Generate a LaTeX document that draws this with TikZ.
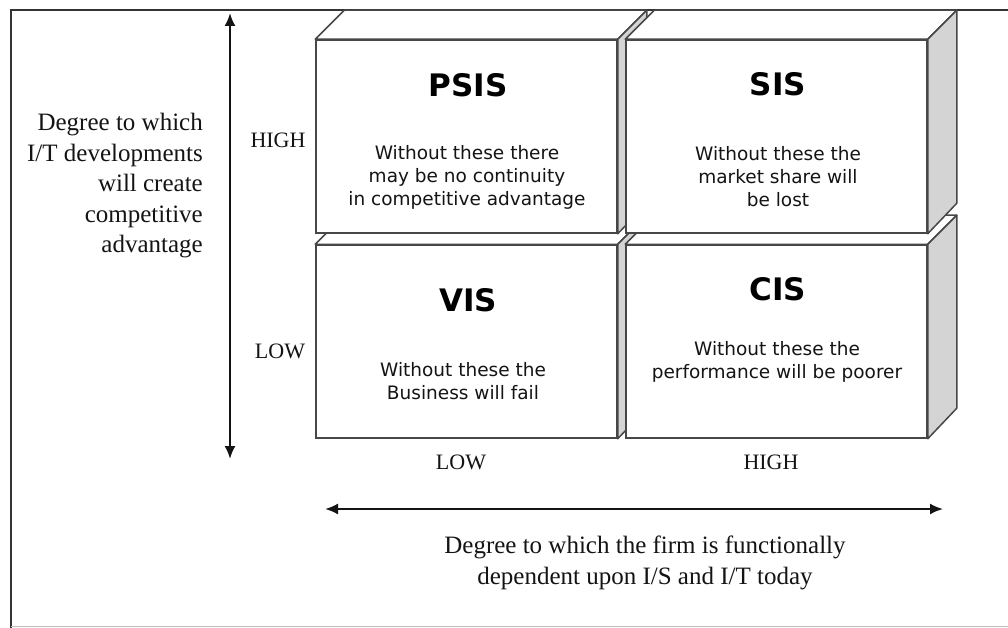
\documentclass[tikz,border=0pt]{standalone}
\usepackage{fontspec}
\setmainfont{Liberation Serif}
\newfontfamily\vfont{DejaVu Sans}
\usetikzlibrary{arrows.meta,calc}
\definecolor{edge}{gray}{0.28}
\definecolor{sidefill}{gray}{0.83}
\definecolor{txt}{gray}{0.08}
\begin{document}
\begin{tikzpicture}[x=1pt,y=-1pt,
  front/.style={draw=edge,line width=1.5pt,fill=white,minimum width=301pt,minimum height=193pt,inner sep=0pt},
  topface/.style={draw=edge,line width=1.5pt,fill=white,line join=round},
  sideface/.style={draw=edge,line width=1.5pt,fill=sidefill,line join=round},
  title/.style={font=\vfont\bfseries\fontsize{31}{37}\selectfont,text=black},
  desc/.style={font=\vfont\fontsize{18.5}{23}\selectfont,text=txt,align=center},
  serif/.style={font=\fontsize{25}{30.5}\selectfont,text=txt},
  level/.style={font=\fontsize{22}{26}\selectfont,text=txt},
  axis/.style={line width=2pt,draw=txt,{Latex[length=13pt,width=11pt]}-{Latex[length=13pt,width=11pt]}}
]
\useasboundingbox (0,0) rectangle (1008,628);
\fill[white] (0,0) rectangle (1008,628);
% frame
\draw[line width=2.4pt,draw=black!80] (11,628) -- (11,10) -- (1010,10);
\draw[line width=1pt,draw=black!25] (11,626.5) -- (1008,626.5);

% cubes: draw order VIS, CIS, PSIS, SIS
\foreach \nm/\cx/\cy in {vis/466.5/341.5, cis/776.5/341.5, psis/466.5/136.5, sis/776.5/136.5}{
  \node[front] (\nm) at (\cx,\cy) {};
  \draw[topface] (\nm.north west) -- ++(29,-29) -- ($(\nm.north east)+(29,-29)$) -- (\nm.north east) -- cycle;
  \draw[sideface] (\nm.north east) -- ++(29,-29) -- ++(0,193) -- (\nm.south east) -- cycle;
  \node[front,fill=none] at (\cx,\cy) {};
}

% texts in boxes
\node[title] (psisT) at (468,85) {PSIS};
\node[desc] (psisD) at (467,177) {Without these there\\may be no continuity\\in competitive advantage};
\node[title] (sisT) at (778,84) {SIS};
\node[desc] (sisD) at (778,177) {Without these the\\market share will\\be lost};
\node[title] (visT) at (468,300) {VIS};
\node[desc] (visD) at (463,381) {Without these the\\Business will fail};
\node[title] (cisT) at (778,289) {CIS};
\node[desc] (cisD) at (777,362) {Without these the\\performance will be poorer};

% axes
\coordinate (vtop) at (230,13);
\coordinate (vbot) at (230,459);
\draw[axis] (vtop) -- (vbot);
\coordinate (hleft) at (325,509);
\coordinate (hright) at (943,509);
\draw[axis] (hleft) -- (hright);

% axis labels
\node[serif,align=right,anchor=east,inner sep=0pt] (ylab) at (203,186) {Degree to which\\I/T developments\\will create\\competitive\\advantage};
\node[level] (yhigh) at (278,140) {HIGH};
\node[level] (ylow) at (280,351) {LOW};
\node[level] (xlow) at (461,462) {LOW};
\node[level] (xhigh) at (771,462) {HIGH};
\node[serif,align=center] (xlab) at (645,563) {Degree to which the firm is functionally\\dependent upon I/S and I/T today};
\end{tikzpicture}
\end{document}
